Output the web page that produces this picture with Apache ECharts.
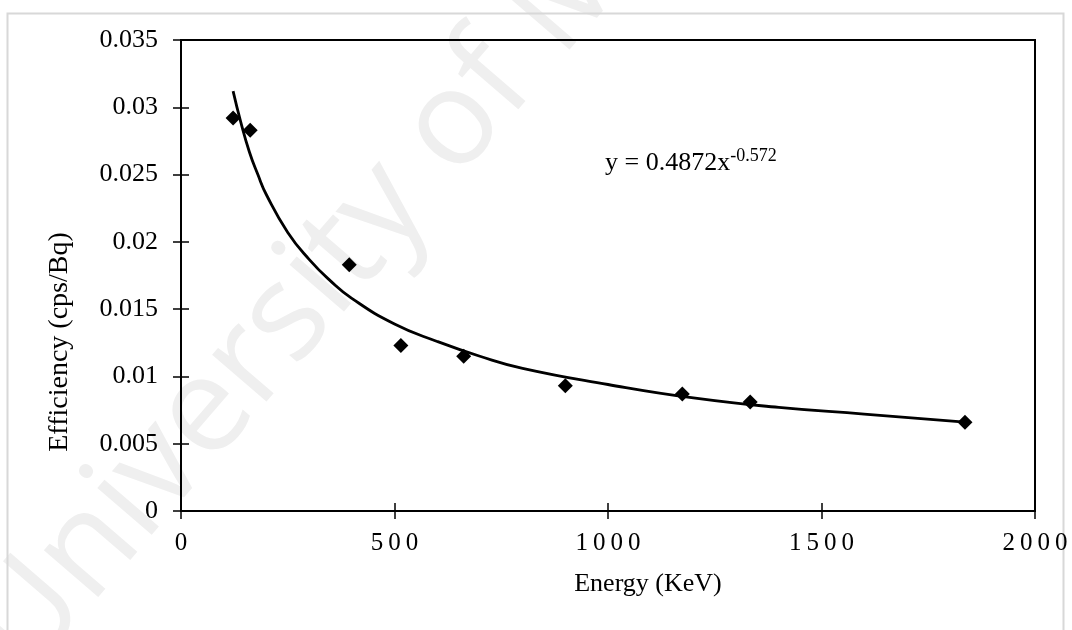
<!DOCTYPE html>
<html>
<head>
<meta charset="utf-8">
<script src="https://cdn.jsdelivr.net/npm/echarts@6/dist/echarts.min.js"></script>
<style>
  html, body { margin: 0; padding: 0; background: #fff; }
  #chart { width: 1072px; height: 630px; }
</style>
</head>
<body>
<div id="chart"></div>
<script>
// measured points (energy keV, efficiency cps/Bq)
const energy = [122, 162, 394, 515, 662, 900, 1174, 1333, 1836];
const efficiency = [0.0292, 0.0283, 0.0183, 0.0123, 0.0115, 0.0093, 0.0087, 0.0081, 0.0066];

// power trendline
const fitEnergy = [122, 140, 160, 180, 200, 250, 300, 350, 400, 500, 600, 700, 800, 1000, 1200, 1400, 1600, 1836];
const fitEfficiency = [0.0312, 0.0289, 0.0267, 0.0250, 0.0235, 0.0207, 0.0187, 0.0171, 0.0158, 0.0139, 0.0126, 0.0115, 0.0106, 0.0094, 0.0084, 0.0077, 0.0072, 0.0066];

const yTickLabels = ['0', '0.005', '0.01', '0.015', '0.02', '0.025', '0.03', '0.035'];
const xTickLabels = ['0', '500', '1000', '1500', '2000'];

const font = 'Liberation Serif';
const chart = echarts.init(document.getElementById('chart'));

const axisCommon = {
  axisLine: { show: true, onZero: false, lineStyle: { color: '#000', width: 2 } },
  splitLine: { show: false },
};

const option = {
  animation: false,
  backgroundColor: '#fff',
  grid: {
    left: 181, right: 37, top: 40, bottom: 119,
    show: true, borderColor: '#000', borderWidth: 2,
  },
  xAxis: [
    {
      ...axisCommon,
      type: 'value', min: 0, max: 2000, interval: 500,
      axisTick: { show: true, length: 8, lineStyle: { color: '#000', width: 1.5 } },
      axisLabel: {
        margin: 20, color: '#000', fontFamily: font, fontSize: 25,
        formatter: (v) => xTickLabels[v / 500].split('').join('\u2009'),
      },
    },
    {
      type: 'value', min: 0, max: 2000, interval: 500, position: 'bottom',
      axisLine: { show: false },
      axisTick: { show: true, inside: true, length: 8, lineStyle: { color: '#000', width: 1.5 } },
      axisLabel: { show: false }, splitLine: { show: false },
    },
  ],
  yAxis: [
    {
      ...axisCommon,
      type: 'value', min: 0, max: 0.035, interval: 0.005,
      axisTick: { show: true, length: 8, lineStyle: { color: '#000', width: 1.5 } },
      axisLabel: {
        margin: 23, color: '#000', fontFamily: font, fontSize: 26,
        formatter: (v) => yTickLabels[Math.round(v / 0.005)],
      },
    },
    {
      type: 'value', min: 0, max: 0.035, interval: 0.005, position: 'left',
      axisLine: { show: false },
      axisTick: { show: true, inside: true, length: 8, lineStyle: { color: '#000', width: 1.5 } },
      axisLabel: { show: false }, splitLine: { show: false },
    },
  ],
  series: [
    {
      name: 'Fit',
      type: 'line',
      smooth: true,
      symbol: 'none',
      data: fitEnergy.map((x, i) => [x, fitEfficiency[i]]),
      lineStyle: { color: '#000', width: 2.8 },
      z: 2,
    },
    {
      name: 'Efficiency',
      type: 'scatter',
      symbol: 'diamond',
      symbolSize: 15,
      data: energy.map((x, i) => [x, efficiency[i]]),
      itemStyle: { color: '#000', opacity: 1 },
      z: 3,
    },
  ],
  graphic: [
    // faint watermark
    {
      type: 'text', z: -10, silent: true,
      x: -2, y: 655, rotation: 0.86,
      style: {
        text: 'University of Malaya',
        fill: '#efefef', font: '134px "Open Sans"',
        verticalAlign: 'middle',
      },
    },
    // outer frame
    {
      type: 'rect', z: -5, silent: true,
      shape: { x: 7.5, y: 13.5, width: 1056, height: 640 },
      style: { fill: 'none', stroke: '#d8d8d8', lineWidth: 2 },
    },
    // axis titles
    {
      type: 'text', z: 10, x: 648, y: 584,
      style: {
        text: 'Energy (KeV)', fill: '#000', font: '26px "Liberation Serif"',
        align: 'center', verticalAlign: 'middle',
      },
    },
    {
      type: 'text', z: 10, x: 60, y: 342, rotation: Math.PI / 2,
      style: {
        text: 'Efficiency (cps/Bq)', fill: '#000', font: '28px "Liberation Serif"',
        align: 'center', verticalAlign: 'middle',
      },
    },
    // trendline equation
    {
      type: 'text', z: 10, x: 605, y: 179,
      style: {
        text: '{b|y = 0.4872x}{s|-0.572}',
        verticalAlign: 'bottom',
        rich: {
          b: { fontFamily: font, fontSize: 26, fill: '#000' },
          s: { fontFamily: font, fontSize: 18, fill: '#000', padding: [0, 0, 14, 0] },
        },
      },
    },
  ],
};

chart.setOption(option);
</script>
</body>
</html>
